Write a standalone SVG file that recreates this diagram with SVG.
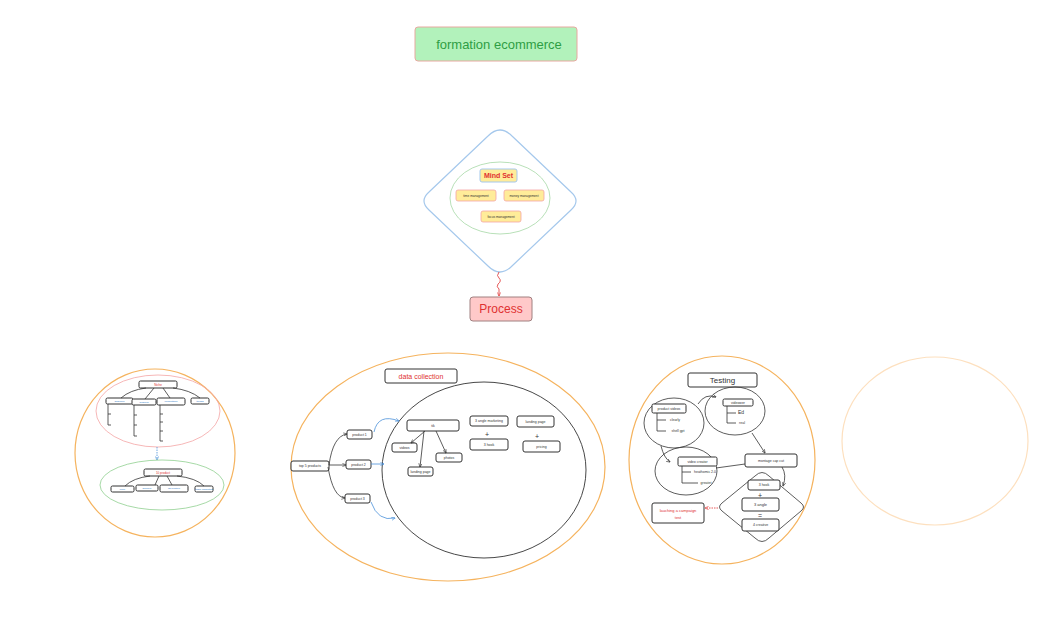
<svg xmlns="http://www.w3.org/2000/svg" width="1060" height="625" viewBox="0 0 1060 625">
<defs>
<style>
text{font-family:"Liberation Sans","DejaVu Sans",sans-serif;text-anchor:middle;dominant-baseline:central}
.box{fill:#fff;stroke:#333;stroke-width:1}
.t{font-size:3.5px;fill:#333}
.tb{font-size:2.5px;fill:#1971c2}
.tr{fill:#e03131}
.ln{fill:none;stroke:#333;stroke-width:0.8}
.orange{fill:none;stroke:#f5b35e;stroke-width:1.2}
</style>
<marker id="ah" viewBox="0 0 10 10" refX="9" refY="5" markerWidth="5" markerHeight="5" orient="auto"><path d="M0,1 L10,5 L0,9" fill="none" stroke="#333" stroke-width="1.5"/></marker>
<marker id="ahb" viewBox="0 0 10 10" refX="9" refY="5" markerWidth="5" markerHeight="5" orient="auto"><path d="M0,1 L10,5 L0,9" fill="none" stroke="#4a90d9" stroke-width="1.5"/></marker>
<marker id="ahr" viewBox="0 0 10 10" refX="9" refY="5" markerWidth="5" markerHeight="5" orient="auto"><path d="M0,1 L10,5 L0,9" fill="none" stroke="#e03131" stroke-width="1.5"/></marker>
</defs>
<rect width="1060" height="625" fill="#fff"/>

<g id="title">
<rect x="415" y="27" width="162" height="34" rx="3" fill="#b2f2bb" stroke="#e8a8a0" stroke-width="1"/>
<text x="499" y="44" font-size="13" fill="#2f9e44">formation ecommerce</text>
</g>

<g id="mindset">
<path d="M488,136 Q500,124 512,136 L571,192 Q581,201 571,210 L512,266 Q500,278 488,266 L429,210 Q419,201 429,192 Z" fill="none" stroke="#a5c8ec" stroke-width="1.2"/>
<ellipse cx="500" cy="198" rx="50" ry="36" fill="none" stroke="#a6d8a6" stroke-width="0.8"/>
<rect x="480" y="169" width="37" height="13" rx="2" fill="#ffec99" stroke="#a5c8ec" stroke-width="1"/>
<text x="498.5" y="175.5" font-size="7" class="tr" font-weight="bold">Mind Set</text>
<rect x="456" y="190" width="40" height="11" rx="2" fill="#ffec99" stroke="#f4a5a5" stroke-width="0.8"/>
<text x="476" y="195.5" font-size="3.2" fill="#333">time management</text>
<rect x="504" y="190" width="40" height="11" rx="2" fill="#ffec99" stroke="#f4a5a5" stroke-width="0.8"/>
<text x="524" y="195.5" font-size="3.2" fill="#333">money management</text>
<rect x="481" y="211" width="40" height="11" rx="2" fill="#ffec99" stroke="#f4a5a5" stroke-width="0.8"/>
<text x="501" y="216.5" font-size="3.2" fill="#333">focus management</text>
</g>

<g id="process">
<rect x="470" y="297" width="62" height="24" rx="3" fill="#ffc9c9" stroke="#a08080" stroke-width="1"/>
<text x="501" y="309" font-size="12" class="tr">Process</text>
</g>

<g id="left-group">
<ellipse cx="155" cy="453" rx="80" ry="84" class="orange"/>
<ellipse cx="158" cy="411" rx="62" ry="36" fill="none" stroke="#f4a5a5" stroke-width="0.8"/>
<rect x="139" y="381" width="38" height="7" rx="1.5" class="box" stroke-width="0.5"/>
<text x="158" y="384.5" font-size="3" class="tr">Niche</text>
<rect x="106" y="398" width="27" height="6" rx="1.5" class="box" stroke-width="0.5"/>
<text x="119.5" y="401" class="tb">audience</text>
<rect x="132" y="399" width="24" height="6" rx="1.5" class="box" stroke-width="0.5"/>
<text x="144" y="402" class="tb">problem</text>
<rect x="157" y="398" width="28" height="7" rx="1.5" class="box" stroke-width="0.5"/>
<text x="171" y="401.5" class="tb">competition</text>
<rect x="191" y="398" width="18" height="6" rx="1.5" class="box" stroke-width="0.5"/>
<text x="200" y="401" class="tb">trends</text>
<g class="ln" stroke-width="0.5">
<path d="M146,388 Q130,390 121,398"/><path d="M154,388 L145,399"/><path d="M163,388 L170,398"/><path d="M173,388 Q190,390 200,398"/>
<path d="M108,404 V425 M108,414 h3 M108,425 h3"/>
<path d="M134,405 V436 M134,415 h3 M134,425 h3 M134,436 h3"/>
<path d="M160,405 V441 M160,414 h3 M160,422 h3 M160,431 h3 M160,441 h3"/>
</g>
<path d="M157,447 V460" fill="none" stroke="#4a90d9" stroke-width="0.8" stroke-dasharray="1.5,1" marker-end="url(#ahb)"/>
<ellipse cx="162" cy="485" rx="62" ry="25" fill="none" stroke="#8fcf8f" stroke-width="0.8"/>
<rect x="144" y="469" width="38" height="7" rx="1.5" class="box" stroke-width="0.5"/>
<text x="163" y="472.5" font-size="3" class="tr">10 product</text>
<rect x="111" y="486" width="23" height="6" rx="1.5" class="box" stroke-width="0.5"/>
<text x="122.5" y="489" class="tb">price</text>
<rect x="136" y="485" width="22" height="6" rx="1.5" class="box" stroke-width="0.5"/>
<text x="147" y="488" class="tb">supplier</text>
<rect x="160" y="485" width="28" height="7" rx="1.5" class="box" stroke-width="0.5"/>
<text x="174" y="488.5" class="tb">ad creative</text>
<rect x="195" y="486" width="18" height="6" rx="1.5" class="box" stroke-width="0.5"/>
<text x="204" y="489" class="tb">angle marketing</text>
<g class="ln" stroke-width="0.5">
<path d="M150,476 Q133,478 125,486"/><path d="M159,476 L155,485"/><path d="M167,476 L172,485"/><path d="M177,476 Q196,478 204,486"/>
</g>
</g>

<g id="data-collection">
<ellipse cx="448" cy="467" rx="157" ry="114" class="orange"/>
<ellipse cx="484" cy="470" rx="102" ry="88" fill="none" stroke="#333" stroke-width="0.9"/>
<rect x="385" y="369" width="72" height="14" rx="2" class="box"/>
<text x="421" y="376" font-size="7" class="tr">data collection</text>
<rect x="291" y="461" width="38" height="10" rx="2" class="box" stroke-width="0.7"/>
<text x="310" y="466" class="t">top 5 products</text>
<rect x="347" y="430" width="25" height="9" rx="2" class="box" stroke-width="0.7"/>
<text x="359.5" y="434.5" class="t">product 1</text>
<rect x="346" y="460" width="25" height="9" rx="2" class="box" stroke-width="0.7"/>
<text x="358.5" y="464.5" class="t">product 2</text>
<rect x="345" y="494" width="25" height="9" rx="2" class="box" stroke-width="0.7"/>
<text x="357.5" y="498.5" class="t">product 3</text>
<rect x="407" y="420" width="52" height="11" rx="2" class="box" stroke-width="0.7"/>
<text x="433" y="425.5" class="t">tik</text>
<rect x="392" y="443" width="25" height="9" rx="2" class="box" stroke-width="0.7"/>
<text x="404.5" y="447.5" class="t">videos</text>
<rect x="408" y="467" width="25" height="9" rx="2" class="box" stroke-width="0.7"/>
<text x="420.5" y="471.5" class="t">landing page</text>
<rect x="436" y="453" width="26" height="9" rx="2" class="box" stroke-width="0.7"/>
<text x="449" y="457.5" class="t">photos</text>
<rect x="470" y="416" width="38" height="10" rx="2" class="box" stroke-width="0.7"/>
<text x="489" y="421" class="t">3 angle marketing</text>
<text x="487" y="434" font-size="7" fill="#333">+</text>
<rect x="470" y="439" width="38" height="11" rx="2" class="box" stroke-width="0.7"/>
<text x="489" y="444.5" class="t">3 hook</text>
<rect x="517" y="416" width="37" height="11" rx="2" class="box" stroke-width="0.7"/>
<text x="535.5" y="421.5" class="t">landing page</text>
<text x="537" y="436" font-size="7" fill="#333">+</text>
<rect x="523" y="441" width="37" height="11" rx="2" class="box" stroke-width="0.7"/>
<text x="541.5" y="446.5" class="t">pricing</text>
</g>

<g id="testing">
<ellipse cx="722" cy="460" rx="93" ry="104" class="orange"/>
<rect x="688" y="373" width="69" height="14" rx="2" class="box"/>
<text x="722.5" y="380" font-size="8" fill="#333">Testing</text>
<ellipse cx="674" cy="423" rx="30" ry="25" fill="none" stroke="#333" stroke-width="0.8"/>
<rect x="652" y="404" width="34" height="9" rx="1.5" class="box" stroke-width="0.6"/>
<text x="669" y="408.5" class="t">product videos</text>
<path d="M657,413 V431 M657,420 h9 M657,431 h9" class="ln" stroke-width="0.6"/>
<text x="675" y="420" class="t">clearly</text>
<text x="678" y="431" class="t">shell gpt</text>
<ellipse cx="735" cy="411" rx="30" ry="24" fill="none" stroke="#333" stroke-width="0.8"/>
<rect x="723" y="399" width="30" height="7" rx="1.5" class="box" stroke-width="0.6"/>
<text x="738" y="402.5" class="t">videower</text>
<path d="M727,406 V423 M727,413 h9 M727,423 h9" class="ln" stroke-width="0.6"/>
<text x="741" y="412" font-size="5" fill="#333">Ed</text>
<text x="742" y="423" class="t">real</text>
<ellipse cx="686" cy="471" rx="31" ry="24" fill="none" stroke="#333" stroke-width="0.8"/>
<rect x="678" y="457" width="39" height="9" rx="1.5" class="box" stroke-width="0.6"/>
<text x="697.5" y="461.5" class="t">video creator</text>
<path d="M682,466 V483 M682,472 h9 M682,483 h16" class="ln" stroke-width="0.6"/>
<text x="705" y="472" class="t">heathomic 2.0</text>
<text x="706" y="483" class="t">greatet</text>
<rect x="745" y="454" width="52" height="13" rx="2" class="box" stroke-width="0.7"/>
<text x="771" y="460.5" class="t">montage cap cut</text>
<path d="M755,476 Q762,469 769,476 L801,503 Q806,507 801,511 L769,538 Q762,545 755,538 L722,511 Q717,507 722,503 Z" fill="none" stroke="#333" stroke-width="0.8"/>
<rect x="748" y="480" width="32" height="10" rx="2" class="box" stroke-width="0.7"/>
<text x="764" y="485" class="t">3 hook</text>
<text x="760" y="495" font-size="7" fill="#333">+</text>
<rect x="742" y="498" width="37" height="13" rx="2" class="box" stroke-width="0.7"/>
<text x="760.5" y="504.5" font-size="4" fill="#333">3 angle</text>
<text x="760" y="515" font-size="7" fill="#333">=</text>
<rect x="742" y="519" width="37" height="12" rx="2" class="box" stroke-width="0.7"/>
<text x="760.5" y="525" class="t">4 creative</text>
<rect x="652" y="503" width="52" height="20" rx="2" class="box" stroke-width="0.7"/>
<text x="678" y="510" font-size="4" class="tr">lauching a campaign</text>
<text x="678" y="517" font-size="4" class="tr">test</text>
</g>

<g id="empty-group">
<ellipse cx="935" cy="441" rx="93" ry="84" fill="none" stroke="#fde0bf" stroke-width="1.2"/>
</g>

<g id="connectors">
<path d="M499,272 q-3,4 0,6 q3,3 -1,6 q-2,3 1,5 V296" fill="none" stroke="#e03131" stroke-width="0.8" marker-end="url(#ahr)"/>
<path d="M329,465 Q333,436 347,434" class="ln" marker-end="url(#ah)"/>
<path d="M329,465 H346" class="ln" marker-end="url(#ah)"/>
<path d="M328,467 Q333,497 345,498" class="ln" marker-end="url(#ah)"/>
<path d="M374,432 Q378,413 399,421" fill="none" stroke="#4a90d9" stroke-width="0.8" marker-end="url(#ahb)"/>
<path d="M371,464 H384" fill="none" stroke="#4a90d9" stroke-width="0.8" marker-end="url(#ahb)"/>
<path d="M371,502 Q378,522 395,518" fill="none" stroke="#4a90d9" stroke-width="0.8" marker-end="url(#ahb)"/>
<path d="M425,431 L411,443" class="ln" marker-end="url(#ah)"/>
<path d="M424,431 L420,467" class="ln" marker-end="url(#ah)"/>
<path d="M436,431 L446,453" class="ln" marker-end="url(#ah)"/>
<path d="M698,404 Q705,393 716,397" class="ln" marker-end="url(#ah)"/>
<path d="M661,446 Q664,458 670,462" class="ln" marker-end="url(#ah)"/>
<path d="M752,433 L765,453" class="ln" marker-end="url(#ah)"/>
<path d="M716,468 L745,464" class="ln"/>
<path d="M782,467 Q787,475 783,486" class="ln" marker-end="url(#ah)"/>
<path d="M718,508 H705" fill="none" stroke="#e03131" stroke-width="0.8" stroke-dasharray="1.5,1" marker-end="url(#ahr)"/>
</g>
</svg>
